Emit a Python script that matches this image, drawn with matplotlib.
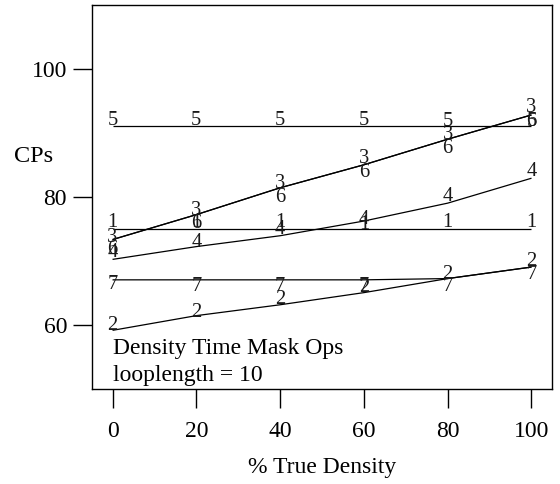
import matplotlib
matplotlib.use("Agg")
import matplotlib.pyplot as plt

plt.rcParams["font.family"] = ["Liberation Serif", "DejaVu Serif"]

# % true density at which each configuration was run
density = [0, 20, 40, 60, 80, 100]

# Series identifiers drawn as plotting characters
series_ids = ["1", "2", "3", "4", "5", "6", "7"]

# Fitted CP curves for each configuration
fit_1 = [75.0, 75.0, 75.0, 75.0, 75.0, 75.0]
fit_2 = [59.1, 61.4, 63.1, 65.0, 67.2, 69.0]
fit_3 = [73.3, 77.2, 81.4, 85.0, 89.0, 92.8]
fit_4 = [70.2, 72.2, 73.9, 76.2, 79.0, 82.9]
fit_5 = [91.1, 91.1, 91.1, 91.1, 91.1, 91.1]
fit_6 = [73.3, 77.2, 81.4, 85.0, 89.0, 92.8]
fit_7 = [67.0, 67.0, 67.0, 67.0, 67.2, 69.0]

# Measured CPs, plotted as the series digit
meas_1 = [76.3, 76.3, 76.3, 76.0, 76.3, 76.3]
meas_2 = [60.3, 62.3, 64.3, 66.25, 68.3, 70.3]
meas_3 = [74.0, 78.2, 82.4, 86.3, 90.1, 94.4]
meas_4 = [71.6, 73.3, 75.3, 76.8, 80.4, 84.4]
meas_5 = [92.3, 92.3, 92.3, 92.3, 92.2, 92.2]
meas_6 = [72.2, 76.2, 80.3, 84.2, 88.0, 92.2]
meas_7 = [66.6, 66.3, 66.4, 66.3, 66.3, 68.3]

fits = [fit_1, fit_2, fit_3, fit_4, fit_5, fit_6, fit_7]
measured = [meas_1, meas_2, meas_3, meas_4, meas_5, meas_6, meas_7]

x_ticks = [0, 20, 40, 60, 80, 100]
y_ticks = [60, 80, 100]

fig = plt.figure(figsize=(5.6, 4.84), dpi=100)
ax = fig.add_axes([0.1643, 0.1973, 0.8207, 0.7924])

for sid, fit, meas in zip(series_ids, fits, measured):
    ax.plot(density, fit, color="black", lw=0.9, solid_capstyle="butt")
    for xv, yv in zip(density, meas):
        ax.text(xv, yv, sid, ha="center", va="center_baseline",
                fontsize=14.8, color="#1a1a1a")

ax.text(0, 56.2, "Density Time Mask Ops", ha="left", va="center", fontsize=17)
ax.text(0, 52.1, "looplength = 10", ha="left", va="center", fontsize=17)

ax.set_xlim(-4.9, 104.8)
ax.set_ylim(50, 110)
ax.set_xticks(x_ticks)
ax.set_yticks(y_ticks)
ax.tick_params(axis="both", direction="out", length=14, width=1,
               labelsize=17)
ax.tick_params(axis="x", pad=9.2)
ax.tick_params(axis="y", pad=4)

for sp in ax.spines.values():
    sp.set_linewidth(1.0)

ax.set_xlabel("% True Density", fontsize=17, labelpad=11)
ax.set_ylabel("CPs", fontsize=17.5, rotation=0, ha="center", va="center")
ax.yaxis.set_label_coords(-0.127, 0.604)

fig.savefig("out.png", dpi=100)
